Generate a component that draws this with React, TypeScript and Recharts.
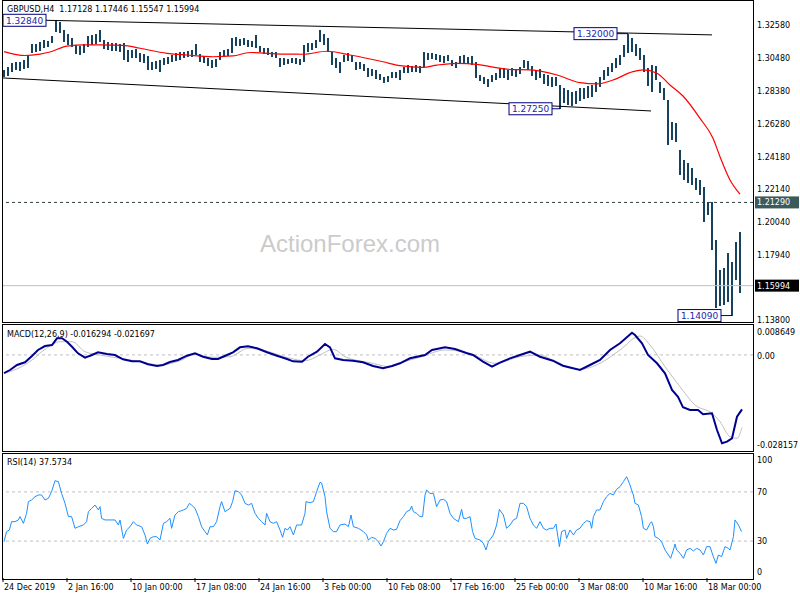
import React from "react";
import { ComposedChart, Bar, Line, XAxis, YAxis, ReferenceLine, ReferenceDot } from "recharts";

// GBPUSD H4 — one entry per pair of H4 bars (high / low)
const highs = [
  1.2972, 1.2991, 1.3016, 1.3022, 1.3022, 1.3035, 1.3067, 1.3137, 1.3137, 1.315,
  1.3163, 1.3156, 1.3188, 1.3284, 1.3277, 1.3226, 1.3201, 1.3175, 1.3131, 1.3124,
  1.3137, 1.3188, 1.3194, 1.3201, 1.3226, 1.3163, 1.315, 1.3143, 1.3143, 1.3137,
  1.3143, 1.3099, 1.3099, 1.3105, 1.308, 1.3073, 1.3061, 1.3022, 1.3029, 1.3035,
  1.3048, 1.3054, 1.3067, 1.308, 1.3086, 1.3086, 1.3092, 1.3099, 1.3137, 1.3073,
  1.3061, 1.3048, 1.3035, 1.3042, 1.3086, 1.3099, 1.3105, 1.3175, 1.3182, 1.3169,
  1.3175, 1.3163, 1.3156, 1.3194, 1.3124, 1.3112, 1.3112, 1.3086, 1.3086, 1.3048,
  1.3048, 1.3042, 1.3048, 1.3048, 1.3042, 1.3131, 1.3143, 1.3143, 1.3163, 1.3226,
  1.3201, 1.3175, 1.3086, 1.3048, 1.3022, 1.3067, 1.308, 1.3067, 1.3022, 1.3022,
  1.301, 1.2984, 1.2978, 1.2972, 1.2946, 1.2927, 1.2933, 1.2959, 1.2959, 1.2972,
  1.2991, 1.3003, 1.2997, 1.3003, 1.2997, 1.3086, 1.308, 1.308, 1.3073, 1.3067,
  1.3061, 1.3067, 1.3035, 1.3022, 1.3061, 1.3067, 1.3054, 1.3061, 1.3022, 1.294,
  1.2927, 1.2914, 1.294, 1.2952, 1.2984, 1.2984, 1.2972, 1.2984, 1.2978, 1.2991,
  1.3035, 1.3029, 1.2997, 1.2972, 1.2978, 1.2946, 1.294, 1.2927, 1.2927, 1.2876,
  1.2857, 1.2844, 1.2832, 1.2838, 1.2857, 1.2857, 1.287, 1.2876, 1.2895, 1.2927,
  1.2972, 1.2991, 1.3016, 1.3048, 1.3067, 1.3131, 1.32, 1.3175, 1.3137, 1.3112,
  1.3067, 1.2984, 1.3003, 1.2997, 1.2895, 1.2857, 1.2781, 1.2641, 1.2634, 1.2463,
  1.2399, 1.238, 1.2348, 1.2284, 1.2272, 1.2227, 1.2132, 1.2132, 1.189, 1.1699,
  1.1712, 1.1807, 1.175, 1.1876, 1.1941,
];
const lows = [
  1.2927, 1.2933, 1.2959, 1.2972, 1.2965, 1.2978, 1.2984, 1.308, 1.3086, 1.3092,
  1.3112, 1.3118, 1.3143, 1.3213, 1.3207, 1.315, 1.3131, 1.3118, 1.3073, 1.3067,
  1.308, 1.3118, 1.3131, 1.3137, 1.315, 1.3105, 1.3099, 1.3092, 1.3092, 1.3086,
  1.3035, 1.3022, 1.3048, 1.3048, 1.3022, 1.3016, 1.2972, 1.2972, 1.2978, 1.2959,
  1.3003, 1.301, 1.3022, 1.3029, 1.3035, 1.3048, 1.3054, 1.3054, 1.3067, 1.3022,
  1.3016, 1.2997, 1.2984, 1.2991, 1.3035, 1.3054, 1.3061, 1.308, 1.3124, 1.3124,
  1.3131, 1.3118, 1.3118, 1.3112, 1.3086, 1.3073, 1.3067, 1.3054, 1.3048, 1.2991,
  1.3003, 1.301, 1.3016, 1.301, 1.3003, 1.3022, 1.3086, 1.3099, 1.3112, 1.315,
  1.3131, 1.3086, 1.3003, 1.2984, 1.2952, 1.3022, 1.3029, 1.3022, 1.2972, 1.2978,
  1.2965, 1.2927, 1.2933, 1.2914, 1.2908, 1.2889, 1.2895, 1.2921, 1.2921, 1.2908,
  1.2952, 1.2952, 1.2959, 1.2959, 1.2952, 1.2991, 1.3035, 1.3042, 1.3035, 1.3022,
  1.3016, 1.3029, 1.2997, 1.2984, 1.301, 1.3016, 1.301, 1.3003, 1.2921, 1.2902,
  1.2882, 1.2863, 1.2895, 1.2908, 1.2921, 1.2921, 1.2908, 1.2933, 1.2927, 1.2946,
  1.2984, 1.2972, 1.2933, 1.2908, 1.2921, 1.2882, 1.287, 1.2863, 1.287, 1.2725,
  1.2762, 1.2749, 1.2743, 1.2755, 1.2774, 1.2787, 1.2793, 1.28, 1.2832, 1.2863,
  1.2908, 1.2933, 1.2959, 1.2984, 1.3003, 1.3054, 1.308, 1.3086, 1.3061, 1.3035,
  1.2959, 1.287, 1.2832, 1.2908, 1.2825, 1.2781, 1.2494, 1.2526, 1.2513, 1.2303,
  1.2272, 1.2253, 1.224, 1.2208, 1.2176, 1.2004, 1.2049, 1.1826, 1.1457, 1.147,
  1.1476, 1.1495, 1.1409, 1.1635, 1.1555,
];

// moving average (red), bar index -> price
const maAt = [0, 10.5, 18, 23, 31.5, 40.5, 48, 59.5, 68, 81.5, 91.5, 104.5, 114.5, 123, 139.5, 149.5, 161.5, 173, 189.5, 198,
  209.5, 216.5, 226.5, 236.5, 243, 253, 263, 276.5, 288, 296.5, 304.5, 314.5, 319.5, 326.5, 333, 339.5, 348, 354.5, 358, 363, 368];
const maValues = [1.3089, 1.3064, 1.3073, 1.3086, 1.3124, 1.3131, 1.3131, 1.3129, 1.311, 1.3078, 1.3067, 1.3056, 1.3061, 1.3083,
  1.3073, 1.3072, 1.3091, 1.3067, 1.3024, 1.2999, 1.2989, 1.3003, 1.3014, 1.3008, 1.2993, 1.2975, 1.2972, 1.294, 1.2891, 1.2883,
  1.2908, 1.2961, 1.2972, 1.2951, 1.2876, 1.2806, 1.2664, 1.2537, 1.242, 1.2272, 1.2182];

const macdAt = [0, 3, 6.5, 10.5, 14, 17, 20.5, 24, 26.5, 29, 31.5, 34, 37, 40.5, 44, 47, 51.5, 55.5, 59.5, 64, 68, 72, 76.5, 79.5,
  83, 87, 91.5, 95.5, 99.5, 104, 107, 111.5, 114.5, 118, 122, 126.5, 131.5, 136.5, 141.5, 144.5, 149, 152, 156.5, 160.5, 163,
  165.5, 169.5, 174.5, 179.5, 184.5, 189.5, 194, 198, 203, 210.5, 214, 220.5, 225.5, 231.5, 234.5, 239.5, 244, 248, 253, 258,
  263, 268, 274.5, 279.5, 288, 293, 298, 303, 308, 314, 315.5, 319, 322, 326.5, 330.5, 334, 337, 339.5, 343, 347, 349.5, 354,
  356.5, 359, 361.5, 364, 366.5, 369];
const macdValues = [-0.00548, -0.00452, -0.00302, -0.00221, -0.00033, 0.00147, 0.00266, 0.00296, 0.00497, 0.00497, 0.00395,
  0.00245, 0.00048, -0.00084, -0.00003, 0.00078, 0.00027, -0.00003, -0.00132, -0.00192, -0.00192, -0.00281, -0.00332, -0.00302,
  -0.00212, -0.00153, -0.00024, 0.00048, -0.00054, -0.00123, -0.00123, -0.00003, 0.00078, 0.00227, 0.00257, 0.00197, 0.00078,
  -0.00024, -0.00123, -0.00192, -0.00203, -0.00054, 0.00096, 0.00326, 0.00227, -0.00102, -0.00153, -0.00174, -0.00221, -0.00332,
  -0.00401, -0.00332, -0.00251, -0.00102, -0.00003, 0.00147, 0.00227, 0.00177, 0.00048, -0.00003, -0.00203, -0.00353, -0.00233,
  -0.00102, -0.00003, 0.00096, -0.00054, -0.00174, -0.00323, -0.00452, -0.00302, -0.00153, 0.00147, 0.00347, 0.00664, 0.00596,
  0.00347, -0.00003, -0.00251, -0.00551, -0.0105, -0.01251, -0.01568, -0.01649, -0.01649, -0.01777, -0.01748, -0.02247, -0.02645,
  -0.02597, -0.02496, -0.0185, -0.01629];

const signalAt = [0, 6.5, 14, 20.5, 28, 34, 40.5, 48, 58, 68, 78, 88, 95.5, 104, 113, 122, 130.5, 143, 150.5, 158, 164.5, 170.5,
  183, 193, 198, 208, 220.5, 233, 245.5, 258, 268, 278, 288, 298, 308, 318, 323, 330.5, 338, 345.5, 354, 358, 363, 366.5, 369];
const signalValues = [-0.00548, -0.0042, -0.00153, 0.00168, 0.00395, 0.00395, 0.00096, -0.00003, -0.00102, -0.00203, -0.00302,
  -0.00174, 0.00018, -0.00072, -0.00054, 0.00197, 0.00126, -0.00102, -0.00174, -0.00003, 0.00168, -0.00054, -0.00233, -0.00353,
  -0.00242, -0.00072, 0.00147, 0.00048, -0.00251, -0.00054, -0.00003, -0.00302, -0.00431, -0.00251, 0.00147, 0.00566, 0.00296,
  -0.00353, -0.00952, -0.01499, -0.01748, -0.01999, -0.02448, -0.02496, -0.0217];

const rsiAt = [0, 1.3, 2.7, 3.8, 5.5, 7.2, 8, 9.7, 11.3, 12.2, 13.8, 15.5, 17.2, 18.8, 20.5, 22.2, 23.8, 25.5, 27.2, 28.8,
  30.5, 32.2, 33.8, 35.5, 37.2, 39.7, 41.3, 42.2, 43.8, 45.5, 47.2, 48, 48.8, 50.5, 53, 55.5, 57.2, 58, 59.7, 61.3,
  63, 64.7, 66.3, 68.8, 70.5, 71.7, 73, 74.7, 76.3, 78, 79.7, 81.3, 83, 83.8, 85.5, 87.2, 89.7, 91.3, 92.7, 93.8,
  95.5, 97.2, 98.8, 100.5, 101.7, 103, 104.7, 106.3, 108, 108.8, 110.5, 113, 114.3, 115.5, 117.2, 118.8, 120.5, 122.2, 123.8, 125.5,
  127.2, 128.8, 130.5, 131.3, 133, 134.7, 136.3, 138, 139.3, 140.5, 141.7, 143, 144.7, 146.3, 148.8, 150.5, 151, 153, 154.7, 156.3,
  158, 158.8, 160.5, 161.3, 163, 164.7, 166.3, 168, 170.5, 172.2, 173.5, 174.7, 177.2, 179.7, 181.3, 182.2, 183.8, 185.5, 187.2, 188.5,
  189.7, 191.3, 193, 194.7, 196.3, 198, 199.7, 201.3, 203, 203.8, 204.7, 206.3, 208, 209.3, 210.5, 211.3, 213, 214.7, 216.3, 218,
  219.7, 221.3, 223, 224.7, 227.2, 228.8, 229.7, 231.3, 233, 234.3, 235.5, 238, 239.7, 241, 242.2, 244.7, 246.3, 247.7, 249.7, 251.3,
  253, 254.7, 256.3, 258, 259.7, 261.3, 263, 264.7, 266.3, 268, 269.7, 271.3, 273, 274.7, 276, 277.7, 278.8, 280.5, 281.3, 283,
  284.7, 286.3, 288, 289.7, 291.3, 293, 293.8, 294.7, 296.3, 298, 299.7, 301.3, 303, 304.7, 306.3, 308, 309.7, 311.3, 313, 313.8,
  314.7, 315.5, 317.2, 318.8, 319.7, 321.3, 323, 323.8, 324.7, 325.5, 327.2, 328.8, 330.5, 332.2, 333.3, 334.7, 335.5, 336.3, 338, 339.7,
  341.3, 343, 344.7, 346.3, 348, 349.7, 351.3, 353, 354.7, 356, 357.2, 358.8, 360.5, 362.2, 363, 364.7, 365.5, 367.2, 368.8];
const rsiValues = [29.5, 37.7, 39, 45.8, 45.8, 47.2, 49.9, 44.4, 52.6, 62.1, 63.4, 66.1, 67.5, 67.5, 63.4, 64.8, 70.2, 79.1, 78.3, 68.8,
  60.7, 49.9, 49.9, 40.4, 41.7, 43.1, 45.8, 53.9, 56.6, 59.3, 55.3, 58, 48.5, 47.2, 47.2, 47.2, 43.1, 47.2, 32.2, 39,
  41.7, 45.8, 43.1, 41.7, 35, 27.6, 32.2, 33.6, 33.6, 30.9, 44.4, 45.8, 48.5, 40.4, 51.2, 53.9, 55.3, 56.6, 60.7, 59.3,
  56.6, 49.9, 41.7, 37.7, 35, 41.7, 41.7, 45.8, 58, 62.1, 53.9, 56.6, 62.1, 71, 70.2, 67.5, 60.7, 59.3, 60.7, 52.6,
  48.5, 45.8, 43.1, 52.6, 45.8, 44.4, 45.8, 39, 33.1, 40.4, 39, 41.7, 35, 43.1, 43.1, 52.6, 62.1, 61.2, 62.1, 70.2,
  77.8, 77.2, 66.1, 53.9, 40.4, 37.7, 37.7, 43.1, 43.9, 41.7, 51.2, 41.7, 40.4, 37.7, 35, 30.9, 33.1, 32.2, 29.5, 26,
  29.5, 36.3, 40.4, 39, 39.6, 46.6, 49.9, 53.9, 55.3, 58.5, 53.9, 52.6, 49.9, 49.9, 67.5, 71.5, 68.8, 68.8, 58, 63.4,
  64, 62.1, 52.6, 48.5, 45.8, 55.8, 48.5, 48.5, 49.9, 37.7, 32.2, 30.9, 28.2, 22.8, 29.5, 35, 43.1, 55.8, 51.2, 40.4,
  43.1, 47.2, 48.5, 60.7, 60.7, 58, 48.5, 43.1, 40.4, 45.8, 40.4, 39, 40.4, 40.4, 43.9, 25.5, 37.7, 39, 32.2, 39,
  35, 39, 40.4, 44.4, 46.6, 45.8, 40.4, 49.9, 55.3, 55.3, 62.1, 66.1, 68.8, 67.5, 72.1, 74.3, 78.3, 82.4, 75.6, 71.5,
  67.5, 60.7, 59.3, 49.9, 40.4, 39, 44.4, 45.8, 41.7, 33.6, 32.2, 29.5, 22.8, 18.7, 16, 22.8, 27.6, 22.8, 20.1, 16,
  22.8, 24.1, 22, 24.1, 22.8, 18.7, 25.5, 25.5, 17.3, 11.9, 18.7, 17.3, 25.5, 24.1, 22.8, 33.6, 47.2, 43.1, 37.7];

const priceTicks = [1.3258, 1.3048, 1.2838, 1.2628, 1.2418, 1.2214, 1.2004, 1.1794, 1.138];
const macdTicks = [-0.028157, 0, 0.008649];
const rsiTicks = [0, 30, 70, 100];
const timeTicks = [-0.5, 31.5, 63.5, 95.5, 127.5, 159.5, 191.5, 223.5, 255.5, 287.5, 319.5, 351.5];
const timeLabels = ["24 Dec 2019", "2 Jan 16:00", "10 Jan 00:00", "17 Jan 08:00", "24 Jan 16:00", "3 Feb 00:00",
  "10 Feb 08:00", "17 Feb 16:00", "25 Feb 00:00", "3 Mar 08:00", "10 Mar 16:00", "18 Mar 00:00"];

const FONT = "DejaVu Sans";
const X_DOMAIN: [number, number] = [-0.5, 374.5];

const bars = highs.map((h, j) => ({ t: 2 * j, range: [lows[j], h] }));
const maRows = maAt.map((t, k) => ({ t, v: maValues[k] }));
const macdRows = macdAt.map((t, k) => ({ t, v: macdValues[k] }));
const signalRows = signalAt.map((t, k) => ({ t, v: signalValues[k] }));
const rsiRows = rsiAt.map((t, k) => ({ t, v: rsiValues[k] }));

const SideTick = (props: any) => {
  const { x, y, payload, fmt, nudge } = props;
  const d = nudge ? nudge(payload.value) : 0;
  return (
    <text x={x} y={y + 3 + d} fontSize={8} fontFamily={FONT} fill="#000">
      {fmt(payload.value)}
    </text>
  );
};

const TimeTick = (props: any) => {
  const { x, y, payload } = props;
  const k = timeTicks.indexOf(payload.value);
  return (
    <text x={x + 1} y={y + 8} fontSize={8} fontFamily={FONT} fill="#000">
      {timeLabels[k]}
    </text>
  );
};

// box on the price scale for a horizontal line
const SideTag = (props: any) => {
  const { viewBox, text, bg } = props;
  const x = viewBox.x + viewBox.width + 2;
  const y = viewBox.y;
  return (
    <g>
      <rect x={x} y={y - 6} width={44} height={12} fill={bg} />
      <text x={x + 2} y={y + 3} fontSize={8} fontFamily={FONT} fill="#fff">{text}</text>
    </g>
  );
};

// boxed price label drawn to the left of its anchor point
const PriceTag = ({ cx, cy, text }: any) => (
  <g>
    <rect x={cx - 43} y={cy - 6} width={43} height={12} fill="#fff" stroke="#000080" strokeWidth={1} />
    <text x={cx - 21.5} y={cy + 3.5} textAnchor="middle" fontSize={9} fontFamily={FONT} fill="#2424b0">{text}</text>
  </g>
);

// H4 bar as a crisp vertical stroke
const HLBar = (p: any) => (
  <rect x={Math.round(p.x + p.width / 2) - 1} y={p.y} width={2} height={Math.max(p.height, 1)}
    fill="#17425e" shapeRendering="crispEdges" />
);

const frame = (top: number, height: number): React.CSSProperties => ({
  position: "absolute", left: 2, top, width: 752, height, border: "1px solid #000",
  boxSizing: "border-box", pointerEvents: "none",
});

const caption = (top: number): React.CSSProperties => ({
  position: "absolute", left: 7, top, fontFamily: FONT, fontSize: 8, lineHeight: "10px",
  color: "#000", whiteSpace: "pre",
});

export default function App() {
  return (
    <div style={{ position: "absolute", left: 0, top: 0, width: 800, height: 600, background: "#fff", overflow: "hidden" }}>
      <div style={{ position: "absolute", left: 350, top: 231, transform: "translateX(-50%)", fontFamily: "Liberation Sans",
        fontSize: 24, lineHeight: "26px", color: "#cbcbcb", whiteSpace: "nowrap" }}>
        ActionForex.com
      </div>

      {/* price panel */}
      <div style={{ position: "absolute", left: 0, top: 0 }}>
        <ComposedChart width={800} height={325} data={bars} margin={{ top: 2, right: 0, bottom: 3, left: 3 }}>
          <XAxis type="number" dataKey="t" domain={X_DOMAIN} allowDataOverflow hide />
          <YAxis orientation="right" width={47} domain={[1.1368, 1.34044]} allowDataOverflow ticks={priceTicks}
            interval={0} axisLine={false} tickLine={false} tickSize={2} tickMargin={2}
            tick={<SideTick fmt={(v: number) => v.toFixed(5)} />} />
          <ReferenceLine y={1.2129} stroke="#2f3f3f" strokeDasharray="3 3"
            label={<SideTag text="1.21290" bg="#3b5a5a" />} />
          <ReferenceLine y={1.15994} stroke="#c0c0c0" label={<SideTag text="1.15994" bg="#000" />} />
          <ReferenceLine segment={[{ x: 21, y: 1.3288 }, { x: 354, y: 1.3195 }]} stroke="#000" />
          <ReferenceLine segment={[{ x: -0.5, y: 1.2921 }, { x: 323.5, y: 1.2711 }]} stroke="#000" />
          <ReferenceLine segment={[{ x: 306.5, y: 1.3203 }, { x: 312, y: 1.3203 }]} stroke="#000080" />
          <ReferenceLine segment={[{ x: 274, y: 1.2725 }, { x: 278, y: 1.2725 }]} stroke="#000080" />
          <ReferenceLine segment={[{ x: 358.5, y: 1.1409 }, { x: 364, y: 1.1409 }]} stroke="#000080" />
          <Bar dataKey="range" barSize={2} fill="#17425e" shape={HLBar} isAnimationActive={false} />
          <Line data={maRows} dataKey="v" type="monotone" stroke="#ff0000" strokeWidth={1.2} dot={false}
            isAnimationActive={false} />
          <ReferenceDot x={21} y={1.3288} shape={(p: any) => <PriceTag cx={p.cx} cy={p.cy} text="1.32840" />} />
          <ReferenceDot x={306.5} y={1.3203} shape={(p: any) => <PriceTag cx={p.cx} cy={p.cy} text="1.32000" />} />
          <ReferenceDot x={274} y={1.2725} shape={(p: any) => <PriceTag cx={p.cx} cy={p.cy} text="1.27250" />} />
          <ReferenceDot x={358.5} y={1.1409} shape={(p: any) => <PriceTag cx={p.cx} cy={p.cy} text="1.14090" />} />
        </ComposedChart>
      </div>

      {/* MACD panel */}
      <div style={{ position: "absolute", left: 0, top: 323 }}>
        <ComposedChart width={800} height={128} margin={{ top: 3, right: 0, bottom: 2, left: 3 }}>
          <XAxis type="number" dataKey="t" domain={X_DOMAIN} allowDataOverflow hide />
          <YAxis orientation="right" width={47} domain={[-0.028157, 0.008649]} allowDataOverflow ticks={macdTicks}
            interval={0} axisLine={false} tickLine={false} tickSize={2} tickMargin={2}
            tick={<SideTick fmt={(v: number) => (v === 0 ? "0.00" : v.toFixed(6))}
              nudge={(v: number) => (v > 0.001 ? 6 : v < -0.01 ? -4 : 1)} />} />
          <ReferenceLine y={0} stroke="#c0c0c0" strokeDasharray="3 3" />
          <Line data={signalRows} dataKey="v" type="monotone" stroke="#c0c0c0" strokeWidth={1} dot={false}
            isAnimationActive={false} />
          <Line data={macdRows} dataKey="v" type="linear" stroke="#000090" strokeWidth={2} dot={false}
            isAnimationActive={false} />
        </ComposedChart>
      </div>

      {/* RSI panel */}
      <div style={{ position: "absolute", left: 0, top: 451 }}>
        <ComposedChart width={800} height={150} margin={{ top: 4, right: 0, bottom: 1, left: 3 }}>
          <XAxis type="number" dataKey="t" domain={X_DOMAIN} allowDataOverflow height={22} ticks={timeTicks}
            interval={0} axisLine={false} tickLine={{ stroke: "#000" }} tickSize={4} tickMargin={0}
            tick={<TimeTick />} />
          <YAxis orientation="right" width={47} domain={[0, 100]} allowDataOverflow ticks={rsiTicks}
            interval={0} axisLine={false} tickLine={false} tickSize={2} tickMargin={2}
            tick={<SideTick fmt={(v: number) => String(v)} nudge={(v: number) => (v === 100 ? 5 : v === 0 ? -6 : 0)} />} />
          <ReferenceLine y={70} stroke="#c0c0c0" strokeDasharray="3 3" />
          <ReferenceLine y={30} stroke="#c0c0c0" strokeDasharray="3 3" />
          <Line data={rsiRows} dataKey="v" type="linear" stroke="#1e90ff" strokeWidth={1} dot={false}
            isAnimationActive={false} />
        </ComposedChart>
      </div>

      <div style={frame(0, 323)} />
      <div style={frame(324, 128)} />
      <div style={frame(453, 127)} />

      <div style={caption(5)}>{"GBPUSD,H4  1.17128 1.17446 1.15547 1.15994"}</div>
      <div style={caption(330)}>{"MACD(12,26,9) -0.016294 -0.021697"}</div>
      <div style={caption(458)}>{"RSI(14) 37.5734"}</div>
    </div>
  );
}
